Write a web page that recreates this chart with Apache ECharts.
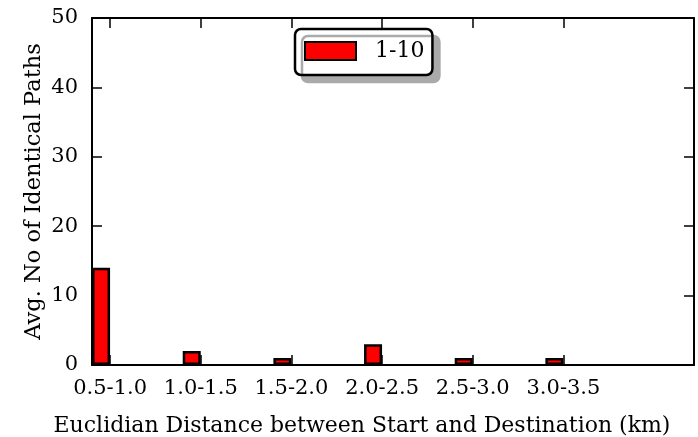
<!DOCTYPE html>
<html>
<head>
<meta charset="utf-8">
<script src="https://cdn.jsdelivr.net/npm/echarts@6/dist/echarts.min.js"></script>
<style>
  html, body { margin: 0; padding: 0; background: #fff; }
  #chart { width: 698px; height: 437px; }
</style>
</head>
<body>
<div id="chart"></div>
<script>
  // distance bins (km) and avg identical paths for the 1-10 group
  const categories = ['0.5-1.0', '1.0-1.5', '1.5-2.0', '2.0-2.5', '2.5-3.0', '3.0-3.5']
  const seriesName = '1-10'
  const values = [14, 2, 1, 3, 1, 1]
  const yTicks = [0, 10, 20, 30, 40, 50]

  // bars sit just left of their tick, like matplotlib bar(x, w) with xticks at x + w
  const barW = 0.2
  const tickPos = categories.map((c, i) => i)
  const barData = values.map((v, i) => [i - barW / 2, v])

  const font = 'DejaVu Serif'
  const chart = echarts.init(document.getElementById('chart'), null, { renderer: 'canvas' })

  const frameLine = { show: true, onZero: false, lineStyle: { color: '#000', width: 2 } }
  const xTick = { show: true, inside: true, length: 10, customValues: tickPos, lineStyle: { color: '#000', width: 1.5 } }
  const yTick = { show: true, inside: true, length: 10, lineStyle: { color: '#000', width: 1.5 } }

  const option = {
    animation: false,
    backgroundColor: '#fff',
    textStyle: { fontFamily: font },
    grid: { left: 92, right: 4, top: 18, bottom: 72, outerBoundsMode: 'none', containLabel: false },
    legend: {
      data: [seriesName],
      left: 295,
      top: 29,
      padding: [11, 8, 13, 9],
      itemWidth: 51,
      itemHeight: 18,
      itemGap: 0,
      icon: 'rect',
      backgroundColor: '#fff',
      borderColor: '#000',
      borderWidth: 2.5,
      borderRadius: 6,
      shadowColor: '#aaa',
      shadowBlur: 0,
      shadowOffsetX: 7,
      shadowOffsetY: 7,
      textStyle: { fontFamily: font, fontSize: 22, color: '#000', padding: [0, 0, 0, 14] }
    },
    xAxis: [
      {
        type: 'value',
        position: 'bottom',
        min: -barW,
        max: 6.44,
        splitLine: { show: false },
        axisLine: frameLine,
        axisTick: xTick,
        axisLabel: {
          customValues: tickPos,
          formatter: (v) => categories[Math.round(v)] || '',
          fontFamily: font, fontSize: 21, color: '#000', margin: 13
        },
        name: 'Euclidian Distance between Start and Destination (km)',
        nameLocation: 'middle',
        nameGap: 50,
        nameMoveOverlap: false,
        nameTextStyle: { fontFamily: font, fontSize: 22, color: '#000', padding: [0, 62, 0, 0] }
      },
      {
        type: 'value',
        position: 'top',
        min: -barW,
        max: 6.44,
        splitLine: { show: false },
        axisLine: frameLine,
        axisTick: xTick,
        axisLabel: { show: false }
      }
    ],
    yAxis: [
      {
        type: 'value',
        position: 'left',
        min: 0,
        max: 50,
        interval: 10,
        splitLine: { show: false },
        axisLine: frameLine,
        axisTick: yTick,
        axisLabel: {
          formatter: (v) => (yTicks.includes(v) ? String(v) : ''),
          fontFamily: font, fontSize: 21, color: '#000', margin: 14
        },
        name: 'Avg. No of Identical Paths',
        nameLocation: 'middle',
        nameGap: 46,
        nameRotate: 90,
        nameMoveOverlap: false,
        nameTextStyle: { fontFamily: font, fontSize: 22.5, color: '#000' }
      },
      {
        type: 'value',
        position: 'right',
        min: 0,
        max: 50,
        interval: 10,
        splitLine: { show: false },
        axisLine: frameLine,
        axisTick: yTick,
        axisLabel: { show: false }
      }
    ],
    series: [
      {
        name: seriesName,
        type: 'bar',
        xAxisIndex: 0,
        yAxisIndex: 0,
        barWidth: 18,
        data: barData,
        itemStyle: { color: '#ff0000', borderColor: '#000', borderWidth: 2.5 }
      }
    ]
  }

  chart.setOption(option)
</script>
</body>
</html>
